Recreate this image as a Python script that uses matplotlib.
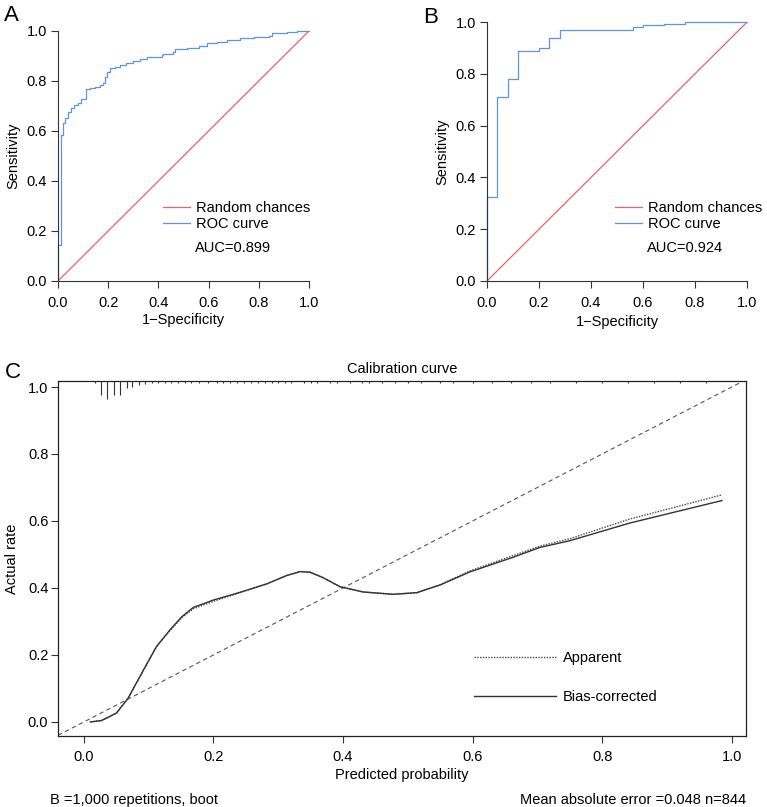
import numpy as np
import matplotlib
matplotlib.use('Agg')
import matplotlib.pyplot as plt
import matplotlib.transforms as mtransforms

plt.rcParams['font.family'] = ['Liberation Sans', 'DejaVu Sans']
plt.rcParams['font.size'] = 10.5

# ROC curve A (training): step points (1-specificity, sensitivity)
fpr_a = [0, 0, 0.011, 0.02, 0.029, 0.04, 0.051, 0.063, 0.08, 0.093, 0.111, 0.127,
         0.147, 0.167, 0.18, 0.187, 0.196, 0.209, 0.227, 0.247, 0.273, 0.3, 0.327,
         0.353, 0.413, 0.42, 0.46, 0.467, 0.513, 0.56, 0.593, 0.633, 0.673, 0.727,
         0.78, 0.84, 0.853, 0.913, 0.953, 1.0]
tpr_a = [0, 0.144, 0.584, 0.63, 0.65, 0.677, 0.69, 0.704, 0.71, 0.727, 0.767, 0.77,
         0.777, 0.784, 0.793, 0.817, 0.837, 0.85, 0.857, 0.863, 0.87, 0.88, 0.888,
         0.895, 0.904, 0.908, 0.917, 0.928, 0.93, 0.94, 0.95, 0.957, 0.964, 0.973,
         0.977, 0.981, 0.993, 0.997, 1.0, 1.0]
auc_a = '0.899'

# ROC curve B (validation)
fpr_b = [0, 0, 0.039, 0.08, 0.12, 0.2, 0.239, 0.28, 0.56, 0.6, 0.681, 0.762, 1.0]
tpr_b = [0, 0.323, 0.711, 0.781, 0.888, 0.9, 0.938, 0.97, 0.981, 0.987, 0.992, 1.0, 1.0]
auc_b = '0.924'

# calibration curve
pred = [0.01, 0.027, 0.05, 0.068, 0.092, 0.112, 0.133, 0.151, 0.169, 0.2, 0.241,
        0.282, 0.313, 0.334, 0.349, 0.37, 0.395, 0.431, 0.478, 0.514, 0.55, 0.596,
        0.663, 0.704, 0.75, 0.843, 0.985]
apparent = [0.0, 0.004, 0.026, 0.07, 0.155, 0.225, 0.273, 0.311, 0.338, 0.36, 0.386,
            0.412, 0.437, 0.449, 0.447, 0.43, 0.404, 0.388, 0.381, 0.386, 0.41, 0.451,
            0.497, 0.525, 0.547, 0.606, 0.678]
bias_corr = [0.0, 0.004, 0.026, 0.07, 0.155, 0.225, 0.275, 0.314, 0.342, 0.364, 0.387,
             0.412, 0.437, 0.449, 0.447, 0.43, 0.404, 0.388, 0.381, 0.386, 0.409, 0.448,
             0.492, 0.521, 0.541, 0.594, 0.661]

# rug of predicted probabilities (relative frequency)
rug_x = [0.017, 0.026, 0.036, 0.046, 0.056, 0.066, 0.075, 0.085, 0.095, 0.105, 0.115,
         0.125, 0.135, 0.146, 0.156, 0.166, 0.177, 0.192, 0.205, 0.215, 0.225, 0.236,
         0.247, 0.258, 0.268, 0.279, 0.29, 0.30, 0.31, 0.32, 0.34, 0.35, 0.36, 0.38,
         0.39, 0.41, 0.43, 0.44, 0.46, 0.48, 0.50, 0.52, 0.55, 0.57, 0.60, 0.63, 0.66,
         0.69, 0.72, 0.76, 0.80, 0.84, 0.88, 0.92, 0.96]
rug_n = [2, 14, 18, 14, 14, 7, 6, 4, 3] + [2] * 46

red = '#ec5f74'
blue = '#5b93ee'
axc = '#333333'

fig = plt.figure(figsize=(7.67, 8.07), dpi=100)


def roc_panel(rect, fpr, tpr, auc, leg_xy, auc_xy, ylab_x):
    ax = fig.add_axes(rect)
    ax.axline((0, 0), (1, 1), color=red, lw=0.9, label='Random chances')
    ax.plot(fpr, tpr, drawstyle='steps-post', color=blue, lw=0.9,
            label='ROC curve', clip_on=False)
    ax.set_xlim(0, 1)
    ax.set_ylim(0, 1)
    ticks = np.arange(0, 1.01, 0.2)
    ax.set_xticks(ticks)
    ax.set_yticks(ticks)
    ax.set_xticklabels(['%.1f' % t for t in ticks])
    ax.set_yticklabels(['%.1f' % t for t in ticks])
    ax.tick_params(direction='out', length=5, width=0.8, color=axc, pad=3)
    ax.tick_params(axis='x', pad=6)
    for s in ['top', 'right']:
        ax.spines[s].set_visible(False)
    for s in ['left', 'bottom']:
        ax.spines[s].set_color(axc)
        ax.spines[s].set_linewidth(0.8)
    ax.set_xlabel('1\u2212Specificity', va='center')
    ax.xaxis.set_label_coords(0.5, -0.158)
    ax.set_ylabel('Sensitivity', va='center')
    ax.yaxis.set_label_coords(ylab_x, 0.5)
    ax.legend(loc='upper left', bbox_to_anchor=leg_xy, frameon=False,
              handlelength=1.85, handletextpad=0.4, labelspacing=0.1,
              borderpad=0, borderaxespad=0)
    ax.text(auc_xy[0], auc_xy[1], 'AUC=' + auc, va='center', ha='left')
    return ax


roc_panel([0.0756, 0.6518, 0.3272, 0.3098], fpr_a, tpr_a, auc_a,
          (0.418, 0.318), (0.546, 0.132), -0.179)
roc_panel([0.635, 0.6518, 0.339, 0.3209], fpr_b, tpr_b, auc_b,
          (0.492, 0.307), (0.614, 0.126), -0.173)

# calibration panel
axc3 = fig.add_axes([0.0756, 0.088, 0.897, 0.4399])
axc3.axline((0, 0), slope=1, color='#555555', lw=0.8, dashes=(4, 3))
axc3.plot(pred, apparent, color='#444444', lw=1.0, ls=(0, (1, 1)), label='Apparent')
axc3.plot(pred, bias_corr, color='#333333', lw=1.0, label='Bias-corrected')
axc3.set_xlim(-0.04, 1.022)
axc3.set_ylim(-0.042, 1.018)
trans = mtransforms.blended_transform_factory(axc3.transData, axc3.transAxes)
axc3.vlines(rug_x, 1 - np.array(rug_n) / 355.0, 1, transform=trans,
            color='#333333', lw=0.8)
ticks = np.arange(0, 1.01, 0.2)
axc3.set_xticks(ticks)
axc3.set_yticks(ticks)
axc3.set_xticklabels(['%.1f' % t for t in ticks])
axc3.set_yticklabels(['%.1f' % t for t in ticks])
axc3.tick_params(direction='out', length=5, width=0.8, color=axc, pad=2)
axc3.tick_params(axis='x', pad=5)
for s in axc3.spines.values():
    s.set_color('#222222')
    s.set_linewidth(0.9)
axc3.set_title('Calibration curve', fontsize=10.5, pad=6)
axc3.set_xlabel('Predicted probability', va='center')
axc3.xaxis.set_label_coords(0.5, -0.11)
axc3.set_ylabel('Actual rate', va='center')
axc3.yaxis.set_label_coords(-0.067, 0.5)
axc3.legend(loc='upper left', bbox_to_anchor=(0.605, 0.238), frameon=False,
            handlelength=5.6, handletextpad=0.5, labelspacing=1.7,
            borderpad=0, borderaxespad=0)

fig.text(50 / 767, 0.004, 'B =1,000 repetitions, boot', ha='left', va='baseline')
fig.text(746 / 767, 0.004, 'Mean absolute error =0.048 n=844', ha='right', va='baseline')

fig.text(0.0143, 0.9814, 'A', fontsize=16, ha='center', va='center')
fig.text(0.562, 0.9777, 'B', fontsize=16, ha='center', va='center')
fig.text(0.0163, 0.5378, 'C', fontsize=16, ha='center', va='center')

fig.savefig('out.png', dpi=100)
